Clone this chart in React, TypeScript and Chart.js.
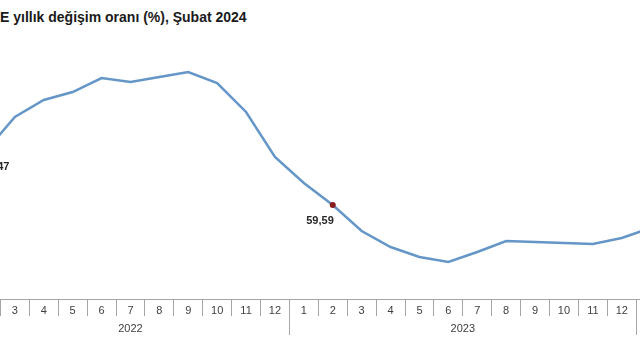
import React, { useEffect, useRef } from "react";
import { Chart, registerables } from "chart.js";

Chart.register(...registerables);

// ---- data ----
const titleText = "E yıllık değişim oranı (%), Şubat 2024";
const monthLabels = ["2", "3", "4", "5", "6", "7", "8", "9", "10", "11", "12", "1", "2", "3", "4", "5", "6", "7", "8", "9", "10", "11", "12", "1", "2"];
const yearLabels = ["2022", "2023", "2024"];
const values = [79.47, 91.82, 98.05, 100.98, 106.11, 104.64, 106.48, 108.31, 104.28, 93.66, 77.17, 67.65, 59.59, 50.07, 44.21, 40.54, 38.71, 42.37, 46.4, 46.04, 45.67, 45.3, 47.5, 51.17, 54.83];
const labelledIndices = [0, 12, 24];
const markedIndices = [12];

const FONT = "'Liberation Sans', Arial, sans-serif";
const AXIS_COLOR = "#a6a6a6";

const fmt = (v: number) => v.toFixed(2).replace(".", ",");

const yearRowPlugin = {
  id: "yearRow",
  afterDraw(chart: any) {
    const xs = chart.scales.x;
    const ctx = chart.ctx;
    const bottom = chart.chartArea.bottom;
    const groups: [number, number][] = [];
    let start = 0;
    monthLabels.forEach((m, i) => {
      if (i > 0 && m === "1") {
        groups.push([start, i - 1]);
        start = i;
      }
    });
    groups.push([start, monthLabels.length - 1]);
    const half = (xs.getPixelForValue(1) - xs.getPixelForValue(0)) / 2;
    ctx.save();
    ctx.strokeStyle = AXIS_COLOR;
    ctx.lineWidth = 1;
    ctx.fillStyle = "#404040";
    ctx.font = `11px ${FONT}`;
    ctx.textAlign = "center";
    ctx.textBaseline = "middle";
    groups.forEach(([s, e], g) => {
      const left = Math.round(xs.getPixelForValue(s) - half) + 0.5;
      ctx.beginPath();
      ctx.moveTo(left, bottom);
      ctx.lineTo(left, bottom + 36);
      ctx.stroke();
      const cx = (xs.getPixelForValue(s) + xs.getPixelForValue(e)) / 2;
      ctx.fillText(yearLabels[g], cx, bottom + 30);
    });
    ctx.restore();
  },
};

const valueLabelPlugin = {
  id: "valueLabels",
  afterDatasetsDraw(chart: any) {
    const meta = chart.getDatasetMeta(0);
    const ctx = chart.ctx;
    ctx.save();
    ctx.fillStyle = "#262626";
    ctx.font = `bold 11px ${FONT}`;
    ctx.textBaseline = "middle";
    labelledIndices.forEach((i, k) => {
      const el = meta.data[i];
      if (!el) return;
      if (k === 0) {
        ctx.textAlign = "left";
        ctx.fillText(fmt(values[i]), el.x - 4, el.y + 16);
      } else {
        ctx.textAlign = "right";
        ctx.fillText(fmt(values[i]), el.x + 1, el.y + 16);
      }
    });
    ctx.restore();
  },
};

export default function App() {
  const ref = useRef<HTMLCanvasElement | null>(null);
  useEffect(() => {
    if (!ref.current) return;
    const chart = new Chart(ref.current, {
      type: "line",
      data: {
        labels: monthLabels,
        datasets: [
          {
            data: values,
            borderColor: "#6596c8",
            borderWidth: 2.5,
            tension: 0,
            fill: false,
            pointRadius: (c: any) => (markedIndices.includes(c.dataIndex) ? 3 : 0),
            pointBackgroundColor: "#8b1c1c",
            pointBorderColor: "#8b1c1c",
            pointBorderWidth: 0,
          },
        ],
      },
      options: {
        responsive: false,
        animation: false,
        layout: { padding: { left: 31.5, right: 6, top: 40, bottom: 0 } },
        plugins: { legend: { display: false }, tooltip: { enabled: false }, title: { display: false } },
        scales: {
          x: {
            type: "category",
            offset: true,
            grid: { offset: true, drawOnChartArea: false, drawTicks: true, tickLength: 17, color: AXIS_COLOR },
            border: { display: true, color: AXIS_COLOR },
            ticks: { color: "#404040", font: { family: FONT, size: 11 }, padding: -12, autoSkip: false, maxRotation: 0 },
            afterFit: (s: any) => {
              s.height = 61;
            },
          },
          y: { display: false, min: 25.16, max: 120.03 },
        },
      },
      plugins: [yearRowPlugin, valueLabelPlugin],
    });
    return () => chart.destroy();
  }, []);
  return (
    <div style={{ position: "fixed", left: 0, top: 0, width: 640, height: 360, overflow: "hidden", background: "#fff" }}>
      <div
        style={{
          position: "absolute",
          left: 0,
          top: 9,
          font: `bold 14px ${FONT}`,
          color: "#1a1a1a",
          whiteSpace: "nowrap",
        }}
      >
        {titleText}
      </div>
      <canvas ref={ref} width={760} height={360} style={{ position: "absolute", left: -60, top: 0 }} />
    </div>
  );
}
